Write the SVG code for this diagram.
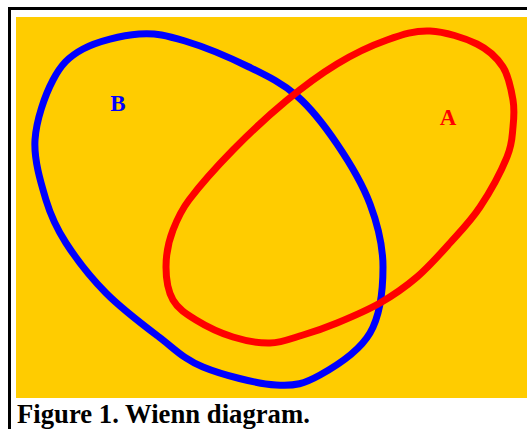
<svg xmlns="http://www.w3.org/2000/svg" width="527" height="429" viewBox="0 0 527 429">
<style>
.frame{stroke:#000;stroke-width:3;fill:none}
.set{fill:none;stroke-width:7;stroke-linejoin:round}
.lbl{font-family:"Liberation Serif","Times New Roman",serif;font-weight:bold}
</style>
<rect x="0" y="0" width="527" height="429" fill="#fff"/>
<g id="frame">
<path class="frame" d="M9.5,429 V8.5 H527"/>
<rect x="16" y="17" width="511" height="381" fill="#FFCC00"/>
</g>
<g id="connectors"></g>
<g id="setB">
<path class="set" stroke="#0000FF" d="M139,34 C156,32.7 166.7,35.5 185,41 C203.3,46.5 230.3,57.8 249,67 C267.7,76.2 282.3,83.2 297,96 C311.7,108.8 324.8,126 337,144 C349.2,162 362.3,183.5 370,204 C377.7,224.5 383,245.5 383,267 C383,288.5 380.5,315 370,333 C359.5,351 335.7,366.3 320,375 C304.3,383.7 295.5,386.3 276,385 C256.5,383.7 222.5,375 203,367 C183.5,359 175.2,349.3 159,337 C142.8,324.7 121.5,308.7 106,293 C90.5,277.3 76,258.5 66,243 C56,227.5 51.2,217.2 46,200 C40.8,182.8 33.8,160 35,140 C36.2,120 45,95.2 53,80 C61,64.8 68.7,56.7 83,49 C97.3,41.3 122,35.3 139,34 Z"/>
<text class="lbl" x="118" y="111" font-size="23" fill="#0000FF" text-anchor="middle">B</text>
</g>
<g id="setA">
<path class="set" stroke="#FF0000" d="M430,31 C445,31.7 464.8,38 477,44 C489.2,50 497,57.7 503,67 C509,76.3 511.3,90 513,100 C514.7,110 514,117.5 513,127 C512,136.5 512.5,143.7 507,157 C501.5,170.3 489.5,192.7 480,207 C470.5,221.3 460.5,231.3 450,243 C439.5,254.7 428.7,267 417,277 C405.3,287 393.3,295.3 380,303 C366.7,310.7 349.8,317.7 337,323 C324.2,328.3 314.2,331.7 303,335 C291.8,338.3 281.7,342.7 270,343 C258.3,343.3 245.3,340.8 233,337 C220.7,333.2 206,326.2 196,320 C186,313.8 178,308.8 173,300 C168,291.2 166,278.7 166,267 C166,255.3 168.5,241.5 173,230 C177.5,218.5 181,210.5 189,200 C199,186.7 216.8,166.5 233,150 C249.2,133.5 268.7,115.3 286,101 C303.3,86.7 320.2,74.2 337,64 C353.8,53.8 371.5,45.5 387,40 C402.5,34.5 415,30.3 430,31 Z"/>
<text class="lbl" x="448" y="125" font-size="23" fill="#FF0000" text-anchor="middle">A</text>
</g>
<text class="lbl" x="17" y="423" font-size="26.7" fill="#000">Figure 1. Wienn diagram.</text>
</svg>
